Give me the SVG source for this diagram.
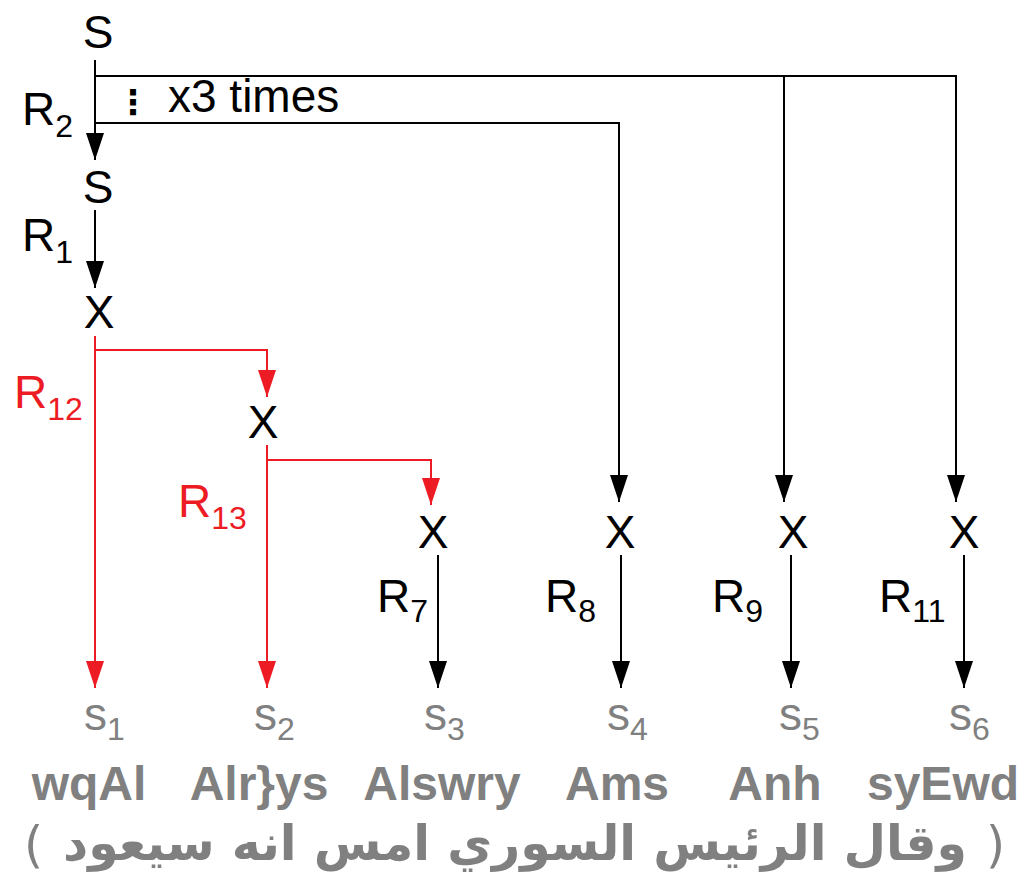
<svg xmlns="http://www.w3.org/2000/svg" width="1025" height="873" viewBox="0 0 1025 873">
<style>
.n{font-family:"Liberation Sans",Arial,sans-serif;font-size:46px;fill:#000;text-anchor:middle}
.l{font-family:"Liberation Sans",Arial,sans-serif;font-size:46px;fill:#000}
.r{fill:#ed1c24}
.sub{font-size:32px}
.s{font-family:"Liberation Sans",Arial,sans-serif;font-size:46px;fill:#808080}
.w{font-family:"Liberation Sans",Arial,sans-serif;font-size:48px;font-weight:bold;fill:#808080;text-anchor:middle}
.ar{font-family:"DejaVu Sans",sans-serif;font-size:49px;font-weight:bold;fill:#808080}
.br{font-family:"DejaVu Sans",sans-serif;font-size:49px;fill:#808080}
.k{fill:none;stroke:#000;stroke-width:2}
.kr{fill:none;stroke:#ed1c24;stroke-width:2}
</style>
<defs>
<marker id="ab" markerUnits="userSpaceOnUse" viewBox="0 0 27 18" refX="27" refY="9" markerWidth="27" markerHeight="18" orient="auto"><path d="M0,0 L27,9 L0,18 z" fill="#000"/></marker>
<marker id="ar" markerUnits="userSpaceOnUse" viewBox="0 0 27 18" refX="27" refY="9" markerWidth="27" markerHeight="18" orient="auto"><path d="M0,0 L27,9 L0,18 z" fill="#ed1c24"/></marker>
</defs>
<rect width="1025" height="873" fill="#fff"/>
<g id="connectors">
<path class="k" d="M95,60 V160" marker-end="url(#ab)"/>
<path class="k" d="M95,123 H619 V502" marker-end="url(#ab)"/>
<path class="k" d="M95,76 H784 V502" marker-end="url(#ab)"/>
<path class="k" d="M784,76 H956 V502" marker-end="url(#ab)"/>
<path class="k" d="M95,210 V288" marker-end="url(#ab)"/>
<path class="kr" d="M95,336 V688" marker-end="url(#ar)"/>
<path class="kr" d="M95,350 H267 V397" marker-end="url(#ar)"/>
<path class="kr" d="M267,445 V688" marker-end="url(#ar)"/>
<path class="kr" d="M267,460 H431 V505" marker-end="url(#ar)"/>
<path class="k" d="M438,555 V688" marker-end="url(#ab)"/>
<path class="k" d="M621,555 V688" marker-end="url(#ab)"/>
<path class="k" d="M791,555 V688" marker-end="url(#ab)"/>
<path class="k" d="M964,555 V688" marker-end="url(#ab)"/>
<text x="133" y="114" font-family="DejaVu Sans,sans-serif" font-size="34" font-weight="bold" text-anchor="middle">⋮</text>
<text x="168" y="112" class="l" font-size="41">x3 times</text>
<text x="22" y="125" class="l">R<tspan class="sub" dy="12">2</tspan></text>
<text x="22" y="251" class="l">R<tspan class="sub" dy="12">1</tspan></text>
<text x="14" y="408" class="l r">R<tspan class="sub" dy="12">12</tspan></text>
<text x="178" y="517" class="l r">R<tspan class="sub" dy="12">13</tspan></text>
<text x="377" y="612" class="l">R<tspan class="sub" dy="10">7</tspan></text>
<text x="545" y="612" class="l">R<tspan class="sub" dy="10">8</tspan></text>
<text x="712" y="612" class="l">R<tspan class="sub" dy="10">9</tspan></text>
<text x="879" y="612" class="l">R<tspan class="sub" dy="10">11</tspan></text>
</g>
<g id="node-S0"><text class="n" x="98" y="48">S</text></g>
<g id="node-S1"><text class="n" x="98" y="203">S</text></g>
<g id="node-X1"><text class="n" x="99" y="328">X</text></g>
<g id="node-X2"><text class="n" x="263" y="438">X</text></g>
<g id="node-X3"><text class="n" x="433" y="548">X</text></g>
<g id="node-X4"><text class="n" x="620" y="548">X</text></g>
<g id="node-X5"><text class="n" x="793" y="548">X</text></g>
<g id="node-X6"><text class="n" x="964" y="548">X</text></g>
<g id="node-s1"><text class="s" x="84" y="730">s<tspan class="sub" dy="10">1</tspan></text></g>
<g id="node-s2"><text class="s" x="254" y="730">s<tspan class="sub" dy="10">2</tspan></text></g>
<g id="node-s3"><text class="s" x="424" y="730">s<tspan class="sub" dy="10">3</tspan></text></g>
<g id="node-s4"><text class="s" x="607" y="730">s<tspan class="sub" dy="10">4</tspan></text></g>
<g id="node-s5"><text class="s" x="779" y="730">s<tspan class="sub" dy="10">5</tspan></text></g>
<g id="node-s6"><text class="s" x="949" y="730">s<tspan class="sub" dy="10">6</tspan></text></g>
<g id="words">
<text class="w" x="89" y="800">wqAl</text>
<text class="w" x="259" y="800">Alr}ys</text>
<text class="w" x="442" y="800">Alswry</text>
<text class="w" x="617" y="800">Ams</text>
<text class="w" x="775" y="800">Anh</text>
<text class="w" x="943" y="800">syEwd</text>
</g>
<g id="arabic">
<text class="br" x="24" y="862">(</text>
<text class="ar" x="515" y="860" text-anchor="middle" direction="rtl">وقال الرئيس السوري امس انه سيعود</text>
<text class="br" x="986" y="862">)</text>
</g>
</svg>
